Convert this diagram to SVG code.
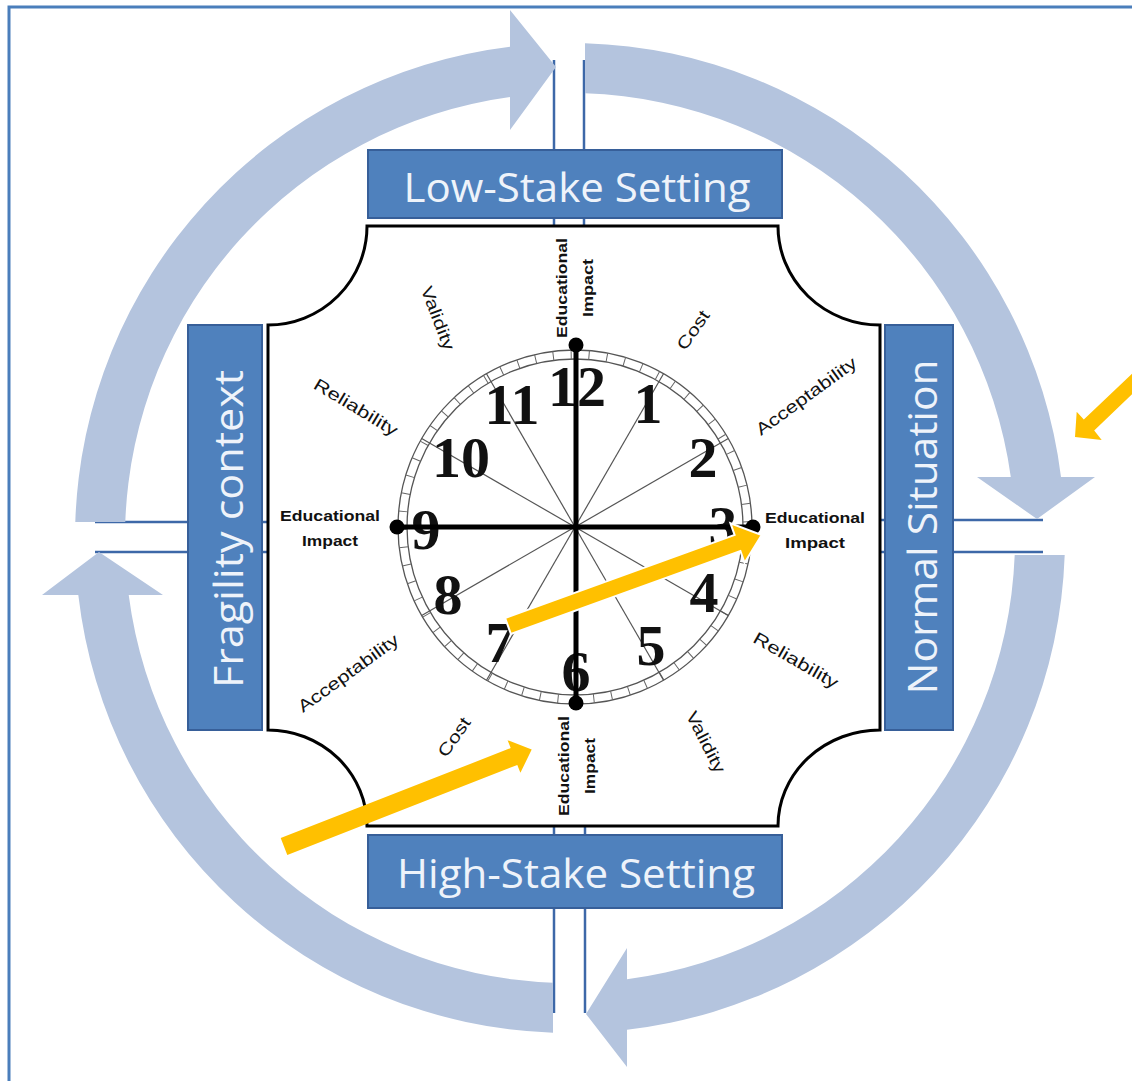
<svg xmlns="http://www.w3.org/2000/svg" width="1132" height="1081" viewBox="0 0 1132 1081">
<style>
.arrow{fill:#b4c4de}
.gl{stroke:#3d68a8;stroke-width:2.5;fill:none}
.box{fill:#4f81bd;stroke:#375f99;stroke-width:2}
.boxt{fill:#eef3fa;font-family:"Open Sans","Noto Sans",sans-serif;font-size:40px;text-anchor:middle}
.crit{font-family:"Liberation Sans",Arial,sans-serif;font-size:17px;fill:#111;text-anchor:middle}
.ei{font-family:"Liberation Sans",Arial,sans-serif;font-weight:bold;font-size:14px;fill:#111;text-anchor:middle}
.num{font-family:"Liberation Serif","Times New Roman",serif;font-weight:bold;font-size:58px;fill:#111;text-anchor:middle}
.hl{stroke:#555;stroke-width:1.2}
.orange{fill:#ffc000}
</style>
<rect x="0" y="0" width="1132" height="1081" fill="#ffffff"/>
<rect id="frame" x="9" y="7" width="1140" height="1100" fill="none" stroke="#4a7ebb" stroke-width="3"/>

<g id="connectors">
  <g id="cycle-lines">
    <line class="gl" x1="554" y1="60" x2="554" y2="226"/>
    <line class="gl" x1="584" y1="60" x2="584" y2="226"/>
    <line class="gl" x1="554" y1="826" x2="554" y2="1013"/>
    <line class="gl" x1="585" y1="826" x2="585" y2="1013"/>
    <line class="gl" x1="95" y1="522" x2="268" y2="522"/>
    <line class="gl" x1="95" y1="552" x2="268" y2="552"/>
    <line class="gl" x1="880" y1="520" x2="1043" y2="520"/>
    <line class="gl" x1="880" y1="552" x2="1043" y2="552"/>
  </g>
  <path id="arrow-top-left" class="arrow" d="M75.3,522 A495,495 0 0 1 510,46.7 L510,10 L556,67 L510,130 L510,97.1 A445,445 0 0 0 125.3,522 Z"/>
  <path id="arrow-top-right" class="arrow" d="M585,43.2 A495,495 0 0 1 1061,477 L1095,477 L1037,519 L977,477 L1010.8,477 A445,445 0 0 0 585,93.3 Z"/>
  <path id="arrow-bottom-right" class="arrow" d="M1064.7,555 A495,495 0 0 1 627,1029.7 L627,1067 L586,1014 L627,948 L627,979.3 A445,445 0 0 0 1014.7,555 Z"/>
  <path id="arrow-bottom-left" class="arrow" d="M553,1032.7 A495,495 0 0 1 78.3,595 L42,595 L99,552 L163,595 L128.7,595 A445,445 0 0 0 553,982.7 Z"/>
</g>

<g id="node-center">
  <path d="M367,226 L778,226 A102,99 0 0 0 880,325 L880,730 A102,96 0 0 0 778,826 L367,826 A99,96 0 0 0 268,730 L268,325 A99,99 0 0 0 367,226 Z" fill="#ffffff" stroke="#000" stroke-width="3"/>
</g>

<g id="node-low-stake">
  <rect class="box" x="368" y="150" width="414" height="68"/>
  <text class="boxt" x="577" y="202" textLength="347" lengthAdjust="spacingAndGlyphs">Low-Stake Setting</text>
</g>
<g id="node-high-stake">
  <rect class="box" x="368" y="835" width="414" height="73"/>
  <text class="boxt" x="576" y="888" textLength="358" lengthAdjust="spacingAndGlyphs">High-Stake Setting</text>
</g>
<g id="node-fragility">
  <rect class="box" x="188" y="325" width="74" height="405"/>
  <text class="boxt" transform="translate(243,529) rotate(-90)" x="0" y="0" textLength="318" lengthAdjust="spacingAndGlyphs">Fragility context</text>
</g>
<g id="node-normal">
  <rect class="box" x="885" y="325" width="68" height="405"/>
  <text class="boxt" transform="translate(937,527) rotate(-90)" x="0" y="0" textLength="335" lengthAdjust="spacingAndGlyphs">Normal Situation</text>
</g>

<g id="node-clock">
  <circle cx="575" cy="527" r="177" fill="none" stroke="#555" stroke-width="1.3"/>
  <circle cx="575" cy="527" r="168" fill="none" stroke="#555" stroke-width="1.3"/>
  <circle cx="575" cy="527" r="172.5" fill="none" stroke="#666" stroke-width="9" stroke-dasharray="1 16.96"/>
  <g class="hl">
    <line x1="575" y1="527" x2="663.5" y2="373.7"/>
    <line x1="575" y1="527" x2="728.3" y2="438.5"/>
    <line x1="575" y1="527" x2="728.3" y2="615.5"/>
    <line x1="575" y1="527" x2="663.5" y2="680.3"/>
    <line x1="575" y1="527" x2="486.5" y2="680.3"/>
    <line x1="575" y1="527" x2="421.7" y2="615.5"/>
    <line x1="575" y1="527" x2="421.7" y2="438.5"/>
    <line x1="575" y1="527" x2="486.5" y2="373.7"/>
  </g>
  <g class="num">
    <text x="577" y="406">12</text>
    <text x="648" y="423">1</text>
    <text x="703" y="477">2</text>
    <text x="723" y="546">3</text>
    <text x="704" y="612">4</text>
    <text x="651" y="665">5</text>
    <text x="576" y="691">6</text>
    <text x="500" y="662">7</text>
    <text x="448" y="614">8</text>
    <text x="426" y="549">9</text>
    <text x="461" y="477">10</text>
    <text x="512" y="424">11</text>
  </g>
  <line x1="576" y1="345" x2="576" y2="703" stroke="#000" stroke-width="5"/>
  <line x1="397" y1="527" x2="753" y2="527" stroke="#000" stroke-width="5"/>
  <circle cx="576" cy="345" r="7.5" fill="#000"/>
  <circle cx="576" cy="703" r="7.5" fill="#000"/>
  <circle cx="397" cy="527" r="7.5" fill="#000"/>
  <circle cx="753" cy="527" r="7.5" fill="#000"/>
</g>

<g id="labels">
  <text class="crit" transform="translate(438,318) rotate(69)" y="6" textLength="67" lengthAdjust="spacingAndGlyphs">Validity</text>
  <text class="crit" transform="translate(356,407) rotate(31)" y="6" textLength="95" lengthAdjust="spacingAndGlyphs">Reliability</text>
  <text class="crit" transform="translate(693,330) rotate(-55)" y="6" textLength="44" lengthAdjust="spacingAndGlyphs">Cost</text>
  <text class="crit" transform="translate(806,396) rotate(-36)" y="6" textLength="120" lengthAdjust="spacingAndGlyphs">Acceptability</text>
  <text class="crit" transform="translate(796,660) rotate(30)" y="6" textLength="95" lengthAdjust="spacingAndGlyphs">Reliability</text>
  <text class="crit" transform="translate(706,742) rotate(63)" y="6" textLength="67" lengthAdjust="spacingAndGlyphs">Validity</text>
  <text class="crit" transform="translate(454,737) rotate(-55)" y="6" textLength="44" lengthAdjust="spacingAndGlyphs">Cost</text>
  <text class="crit" transform="translate(348,673) rotate(-36)" y="6" textLength="120" lengthAdjust="spacingAndGlyphs">Acceptability</text>

  <g transform="translate(575,288) rotate(-90)">
    <text class="ei" x="0" y="-8" textLength="100" lengthAdjust="spacingAndGlyphs">Educational</text>
    <text class="ei" x="0" y="18" textLength="58" lengthAdjust="spacingAndGlyphs">Impact</text>
  </g>
  <g transform="translate(577,766) rotate(-90)">
    <text class="ei" x="0" y="-8" textLength="100" lengthAdjust="spacingAndGlyphs">Educational</text>
    <text class="ei" x="0" y="18" textLength="56" lengthAdjust="spacingAndGlyphs">Impact</text>
  </g>
  <text class="ei" x="330" y="521" textLength="100" lengthAdjust="spacingAndGlyphs">Educational</text>
  <text class="ei" x="330" y="546" textLength="56" lengthAdjust="spacingAndGlyphs">Impact</text>
  <text class="ei" x="815" y="523" textLength="100" lengthAdjust="spacingAndGlyphs">Educational</text>
  <text class="ei" x="815" y="548" textLength="60" lengthAdjust="spacingAndGlyphs">Impact</text>
</g>

<g id="highlight-arrows">
  <polygon class="orange" stroke="#ffffff" stroke-width="2" points="505.1,618 734.6,535 730.4,523.2 761.7,535 744.6,562.8 740.4,551 510.9,634"/>
  <polygon class="orange" points="280.7,838.1 510.7,748.1 507.6,740.2 531.7,749.6 520.4,772.8 517.3,764.9 287.3,854.9"/>
  <polygon class="orange" points="1139.8,366.2 1083.8,419.6 1076.7,411.7 1075,437 1101.7,440 1094.2,430.4 1150.2,377"/>
</g>
</svg>
